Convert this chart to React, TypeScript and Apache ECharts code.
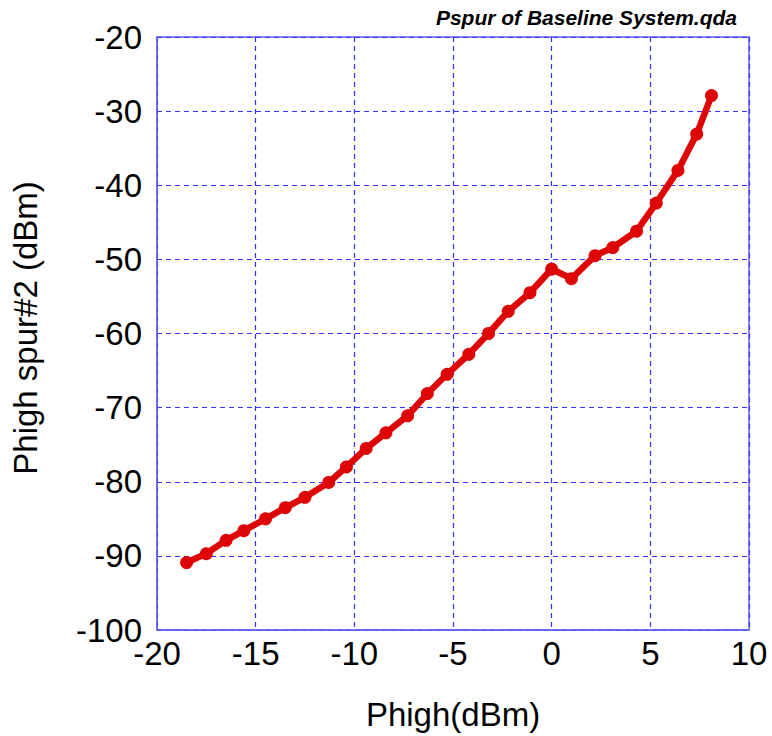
import React, { useEffect, useRef } from "react";
import * as echarts from "echarts";

// Input power (dBm) and the measured second spur level (dBm)
const phigh: number[] = [
  -18.5, -17.5, -16.5, -15.6, -14.5, -13.5, -12.5, -11.3, -10.4, -9.4, -8.4, -7.3, -6.3, -5.3,
  -4.2, -3.2, -2.2, -1.1, 0, 1.0, 2.2, 3.1, 4.3, 5.3, 6.4, 7.35, 8.1,
];
const spur2: number[] = [
  -90.9, -89.7, -87.9, -86.6, -85.0, -83.5, -82.1, -80.1, -78.0, -75.5, -73.4, -71.1, -68.1, -65.5,
  -62.8, -60.0, -57.0, -54.5, -51.3, -52.6, -49.5, -48.4, -46.2, -42.4, -38.0, -33.1, -27.9,
];

const titleText = "Pspur of Baseline System.qda";
const xName = "Phigh(dBm)";
const yName = "Phigh spur#2 (dBm)";

const FONT = "'Liberation Sans', Arial, sans-serif";

export default function App() {
  const ref = useRef<HTMLDivElement>(null);

  useEffect(() => {
    if (!ref.current) return;
    const chart = echarts.init(ref.current, undefined, { renderer: "svg" });
    const points = phigh.map((x, i) => [x, spur2[i]]);
    const frame = { show: true, onZero: false, lineStyle: { color: "#6464e8", width: 1.5 } };
    const gridLines = { show: true, lineStyle: { color: "#3232ff", width: 1.2, type: [5, 4] as number[] } };
    chart.setOption({
      animation: false,
      backgroundColor: "#ffffff",
      grid: { left: 157, right: 23, top: 37, bottom: 106, show: true, borderColor: "#6464e8", borderWidth: 1.5 },
      xAxis: {
        type: "value",
        min: -20,
        max: 10,
        interval: 5,
        axisLine: frame,
        axisTick: { show: false },
        splitLine: gridLines,
        axisLabel: { color: "#000", fontSize: 33, fontFamily: FONT, margin: 7 },
      },
      yAxis: {
        type: "value",
        min: -100,
        max: -20,
        interval: 10,
        axisLine: frame,
        axisTick: { show: false },
        splitLine: gridLines,
        axisLabel: { color: "#000", fontSize: 33, fontFamily: FONT, margin: 15 },
      },
      graphic: [
        {
          type: "text",
          right: 35,
          top: 7,
          style: { text: titleText, fontSize: 21, fontWeight: "bold", fontStyle: "italic", fontFamily: FONT, fill: "#000" },
        },
        {
          type: "text",
          x: 453,
          y: 714,
          style: { text: xName, fontSize: 33, fontFamily: FONT, fill: "#000", align: "center", verticalAlign: "middle" },
        },
        {
          type: "text",
          x: 25,
          y: 328,
          rotation: Math.PI / 2,
          style: { text: yName, fontSize: 33, fontFamily: FONT, fill: "#000", align: "center", verticalAlign: "middle" },
        },
      ],
      series: [
        {
          type: "line",
          data: points,
          lineStyle: { color: "#dd0505", width: 6.5 },
          itemStyle: { color: "#dd0505" },
          symbol: "circle",
          symbolSize: 13,
          showSymbol: true,
        },
      ],
    });
    return () => chart.dispose();
  }, []);

  return <div ref={ref} style={{ position: "absolute", left: 0, top: 0, width: 772, height: 736 }} />;
}
